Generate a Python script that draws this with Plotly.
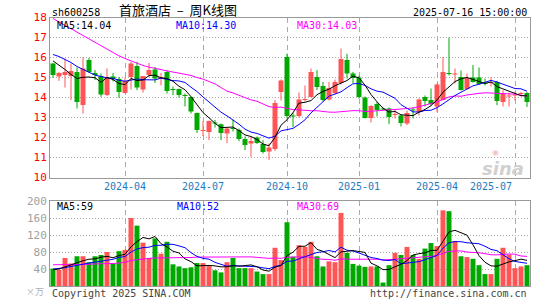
import plotly.graph_objects as go
import pandas as pd

W, H = 545, 300

# weekly categories (one per trading week; the closed Spring-Festival week is skipped)
weeks = [d.strftime("%Y-%m-%d") for d in pd.date_range("2024-01-05", periods=81, freq="W-FRI")
         if d.strftime("%Y-%m-%d") != "2024-02-16"]

month_ticks = ["2024-04-05", "2024-07-05", "2024-10-11", "2025-01-03", "2025-04-04", "2025-07-04"]
month_labels = ["2024-04", "2024-07", "2024-10", "2025-01", "2025-04", "2025-07"]

opens = [15.70, 15.05, 15.12, 15.08, 15.28, 13.62, 15.87, 15.23, 15.07, 14.12,
         15.05, 14.92, 14.23, 15.03, 15.57, 14.40, 15.12, 15.40, 14.95, 15.28,
         14.40, 14.42, 14.10, 14.02, 13.22, 12.32, 12.28, 12.75, 12.66, 12.20,
         12.48, 12.37, 11.93, 11.70, 12.00, 11.68, 11.30, 11.42, 14.28, 16.03,
         13.10, 13.07, 13.88, 14.03, 15.03, 14.57, 13.90, 14.22, 14.72, 15.87,
         15.20, 15.00, 14.00, 12.97, 13.67, 13.45, 13.45, 13.12, 13.10, 12.70,
         13.40, 13.28, 14.02, 13.87, 13.55, 13.87, 15.22, 15.15, 15.03, 14.42,
         15.00, 15.00, 14.72, 14.72, 14.78, 13.78, 14.05, 14.10, 14.18, 14.23]
highs = [15.72, 15.28, 15.95, 15.70, 15.50, 16.00, 15.98, 15.37, 15.20, 15.45,
         15.22, 15.03, 15.00, 15.78, 15.78, 15.07, 15.73, 15.53, 15.23, 15.33,
         14.55, 14.45, 14.20, 14.05, 13.25, 12.82, 12.85, 12.88, 12.70, 12.50,
         12.90, 12.45, 12.05, 12.03, 12.05, 11.87, 11.70, 13.87, 14.90, 16.20,
         13.25, 14.25, 14.60, 15.45, 15.37, 14.78, 14.78, 14.90, 16.45, 16.18,
         15.28, 15.10, 14.05, 13.62, 13.78, 13.50, 13.50, 13.40, 13.15, 13.35,
         13.52, 13.95, 14.10, 14.45, 14.70, 16.02, 17.00, 15.45, 15.35, 15.20,
         15.62, 15.50, 14.95, 15.00, 14.83, 14.37, 14.25, 14.28, 14.28, 14.27]
lows = [14.98, 14.83, 14.50, 13.87, 13.45, 13.20, 15.23, 14.87, 14.03, 14.08,
        14.80, 13.98, 14.20, 14.40, 14.37, 14.25, 15.03, 14.73, 14.60, 14.20,
        14.12, 14.00, 13.55, 13.20, 12.23, 12.07, 11.87, 12.50, 11.87, 11.72,
        12.30, 11.82, 11.37, 11.03, 11.68, 11.20, 10.88, 11.33, 13.85, 12.95,
        12.52, 13.00, 13.80, 14.00, 14.37, 13.80, 13.85, 14.15, 14.65, 14.95,
        14.72, 13.95, 12.95, 12.75, 13.05, 13.35, 12.67, 12.95, 12.55, 12.62,
        12.95, 13.10, 13.55, 13.60, 13.28, 13.85, 15.10, 14.70, 14.35, 14.38,
        14.75, 14.65, 14.60, 14.55, 13.62, 13.55, 13.55, 13.85, 14.05, 13.53]
closes = [15.12, 15.23, 15.28, 15.32, 13.78, 15.45, 15.28, 15.12, 14.15, 15.03,
          14.92, 14.28, 14.83, 15.70, 14.50, 15.07, 15.37, 14.95, 15.03, 14.33,
          14.37, 14.13, 14.07, 13.30, 12.38, 12.35, 12.82, 12.70, 12.22, 12.45,
          12.42, 11.93, 11.62, 11.82, 11.72, 11.28, 11.50, 13.73, 14.85, 13.07,
          13.05, 13.90, 13.93, 15.28, 14.53, 13.88, 14.47, 14.78, 15.92, 15.20,
          14.97, 14.03, 12.98, 13.57, 13.37, 13.40, 13.03, 13.15, 12.72, 13.22,
          13.35, 13.90, 13.82, 13.67, 14.65, 15.28, 15.18, 15.20, 14.37, 14.98,
          14.78, 14.67, 14.70, 14.75, 13.83, 14.20, 14.08, 14.13, 14.22, 13.78]
volumes = [41, 38, 66, 53, 70, 70, 56, 70, 73, 80,
           53, 82, 85, 160, 142, 102, 66, 112, 76, 104,
           51, 46, 42, 44, 54, 54, 48, 37, 32, 56,
           66, 42, 42, 42, 34, 28, 28, 90, 61, 150,
           69, 96, 92, 104, 70, 46, 58, 56, 172, 78,
           52, 48, 45, 46, 46, 8, 49, 78, 73, 92,
           73, 64, 88, 101, 94, 178, 176, 106, 70, 68,
           64, 49, 28, 28, 64, 90, 74, 42, 46, 49]

# moving-average values at the left edge (their windows start before the visible range)
ma5_head = [15.83, 15.62, 15.40, 15.15]
ma10_head = [16.15, 16.05, 15.90, 15.75, 15.55, 15.40, 15.25, 15.12, 15.05]
ma30_head = [17.95, 17.78, 17.60, 17.42, 17.25, 17.07, 16.90, 16.72, 16.55, 16.38,
             16.22, 16.08, 15.95, 15.82, 15.70, 15.60, 15.52, 15.45, 15.38, 15.32,
             15.27, 15.22, 15.17, 15.10, 15.00, 14.92, 14.80, 14.68, 14.50]
vma5_head = [38, 40, 45, 50]
vma10_head = [40, 41, 43, 46, 49, 52, 54, 56, 58]
vma30_head = [50, 50, 50, 50, 51, 51, 51, 52, 52, 52, 53, 54, 56, 60, 62, 64, 65, 66, 66, 66,
              67, 67, 67, 67, 68, 68, 68, 68, 68]

price_ma_labels = ["MA5:14.04", "MA10:14.30", "MA30:14.03"]
vol_ma_labels = ["MA5:59", "MA10:52", "MA30:69"]

RED, GREEN = "#ff5555", "#00a800"
MA_COLORS = ["#000000", "#0000ff", "#ff00ff"]
MONO = "DejaVu Sans Mono"


def moving_avg(vals, n, head):
    out = list(head)
    for i in range(len(head), len(vals)):
        out.append(sum(vals[i - n + 1:i + 1]) / n)
    return out


up = [c >= o for o, c in zip(opens, closes)]
colors = [RED if u else GREEN for u in up]
body_base = [min(o, c) for o, c in zip(opens, closes)]
body_h = [max(abs(c - o), 0.05) for o, c in zip(opens, closes)]

fig = go.Figure()
fig.add_trace(go.Bar(x=weeks, y=body_h, base=body_base, width=0.83,
                     marker=dict(color=colors, line=dict(width=0)), xaxis="x", yaxis="y"))
fig.add_trace(go.Bar(x=weeks, y=volumes, width=0.83,
                     marker=dict(color=colors, line=dict(width=0)), xaxis="x2", yaxis="y2"))

for col, flag in ((RED, True), (GREEN, False)):
    wx, wy = [], []
    for d, h, l, u in zip(weeks, highs, lows, up):
        if u == flag:
            wx += [d, d, None]
            wy += [l, h, None]
    fig.add_trace(go.Scatter(x=wx, y=wy, mode="lines", line=dict(color=col, width=1),
                             xaxis="x", yaxis="y"))

for n, head, col in ((30, ma30_head, MA_COLORS[2]), (10, ma10_head, MA_COLORS[1]), (5, ma5_head, MA_COLORS[0])):
    fig.add_trace(go.Scatter(x=weeks, y=moving_avg(closes, n, head), mode="lines",
                             line=dict(color=col, width=1), xaxis="x", yaxis="y"))
for n, head, col in ((30, vma30_head, MA_COLORS[2]), (10, vma10_head, MA_COLORS[1]), (5, vma5_head, MA_COLORS[0])):
    fig.add_trace(go.Scatter(x=weeks, y=moving_avg(volumes, n, head), mode="lines",
                             line=dict(color=col, width=1), xaxis="x2", yaxis="y2"))

px = lambda v: v / W
py = lambda v: 1 - v / H

xcommon = dict(type="category", categoryorder="array", categoryarray=weeks,
               range=[-0.5, len(weeks) - 0.5], tickvals=month_ticks, showticklabels=False,
               showgrid=True, gridcolor="#aaaaaa", gridwidth=1, griddash="5px,4px",
               showline=True, mirror=True, linecolor="#999999", linewidth=1,
               ticks="", zeroline=False, domain=[px(50), px(530)], fixedrange=True,
               automargin=False)
ycommon = dict(showgrid=True, gridcolor="#aaaaaa", gridwidth=1, griddash="1px,2px",
               showline=True, mirror=True, linecolor="#999999", linewidth=1,
               ticks="", zeroline=False, fixedrange=True, automargin=False)

fig.update_layout(
    width=W, height=H, margin=dict(l=0, r=0, t=0, b=0, autoexpand=False),
    paper_bgcolor="white", plot_bgcolor="white", showlegend=False, hovermode=False,
    xaxis=dict(**xcommon, anchor="y"),
    xaxis2=dict(**xcommon, anchor="y2", matches="x"),
    yaxis=dict(**ycommon, domain=[py(177.5), py(17.5)], range=[10, 18],
               tickvals=list(range(10, 19)), tickfont=dict(family=MONO, size=11, color="#ff0000")),
    yaxis2=dict(**ycommon, domain=[py(286), py(201)], range=[0, 200],
                tickvals=[40, 80, 120, 160, 200], tickfont=dict(family=MONO, size=11, color="#a0a0a0")),
)

ann = []


def text(x, y, s, color="#000000", size=10, anchor="left", family=MONO, **kw):
    ann.append(dict(x=px(x), y=py(y), xref="paper", yref="paper", text=s, showarrow=False,
                    xanchor=anchor, yanchor="middle",
                    font=dict(family=family, size=size, color=color, **kw)))


NB = "\u00a0"
text(50, 12, "sh600258", size=10)
text(117, 9.5, "首旅酒店" + NB * 2 + "–" + NB * 2 + "周K线图", size=13, family="Noto Sans CJK SC")
text(529, 12, "2025-07-16 15:00:00", size=10, anchor="right")
for lbl, x, col in zip(price_ma_labels, (55, 174, 295), MA_COLORS):
    text(x, 25, lbl, color=col)
for lbl, x, col in zip(vol_ma_labels, (55, 175, 295), MA_COLORS):
    text(x, 207, lbl, color=col)
text(50, 293, "Copyright 2025 SINA.COM", color="#444444")
text(529, 293, "http://finance.sina.com.cn", color="#444444", anchor="right")
text(46, 291, "×万", color="#b0b0b0", size=9, anchor="right", family="Noto Sans CJK SC")
text(503, 168, "sina", color="#d0d0d0", size=18, anchor="center", family="DejaVu Sans",
     weight="bold", style="italic")
text(495, 152, "◉", color="#f0c4c4", size=8, anchor="center", family="DejaVu Sans")

for i, (d, lbl) in enumerate(zip(month_ticks, month_labels)):
    last = i == len(month_ticks) - 1
    ann.append(dict(x=d, y=py(186), xref="x", yref="paper", text=lbl, showarrow=False,
                    xanchor="right" if last else "center", yanchor="middle",
                    xshift=0 if not last else -1,
                    font=dict(family=MONO, size=10, color="#1a7dc4")))

fig.update_layout(annotations=ann)
# remove the page's default 8 px body margin so the figure sits at the window's corner
fig.write_html("out.html", config={"displayModeBar": False, "staticPlot": True},
               post_script="document.body.style.margin='0px';document.body.style.overflow='hidden';")
